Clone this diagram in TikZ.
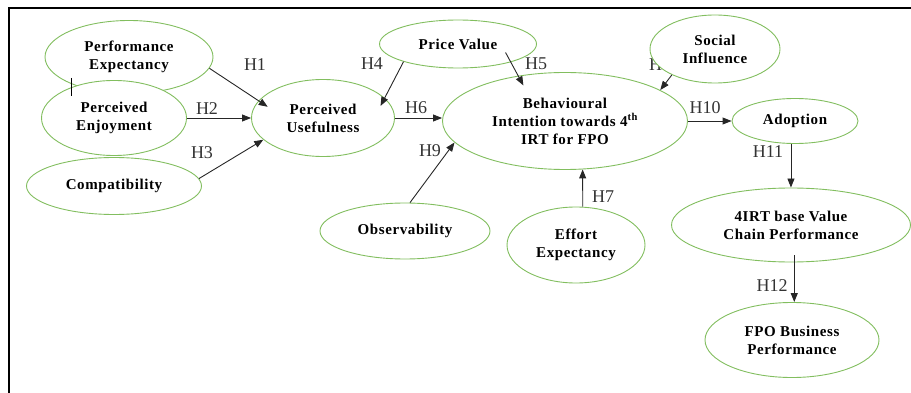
\documentclass[tikz,border=0pt]{standalone}
\usepackage{fontspec}
\setmainfont{Liberation Serif}
\usetikzlibrary{arrows.meta,positioning,shapes.geometric}
\definecolor{ovalgreen}{RGB}{130,190,95}

\begin{document}
\begin{tikzpicture}[x=1pt,y=-1pt,
      construct/.style={
        ellipse,
        draw=ovalgreen,
        fill=white,
        line width=0.9pt,
        inner sep=0pt,
        align=center,
        font=\fontsize{15}{18}\selectfont\bfseries\addfontfeature{LetterSpace=4}},
      hyp/.style = {draw=black!85, line width=0.9pt, -{Triangle[length=9pt,width=7pt]}},
      hlabel/.style = {inner sep=0pt, text=black!80, font=\fontsize{18}{18}\selectfont}
      ]
  \useasboundingbox (0,0) rectangle (911,393);
  \draw[line width=2pt] (911,8) -- (9,8) -- (9,393);

  \node[construct, minimum width=168pt, minimum height=73pt] (PE) at (129,57) {Performance\\Expectancy};
  \node[construct, minimum width=145pt, minimum height=75pt] (PEn) at (114,118) {Perceived\\Enjoyment};
  \draw[line width=1pt] (71,78) -- (71,96);
  \node[construct, minimum width=175pt, minimum height=57pt] (CO) at (114,186) {Compatibility};
  \node[construct, minimum width=143pt, minimum height=77pt] (PU) at (323,118) {Perceived\\Usefulness};
  \node[construct, minimum width=157pt, minimum height=48pt] (PV) at (458,44) {Price Value};
  \node[construct, minimum width=245pt, minimum height=97pt] (BI) at (565,121) {Behavioural\\Intention towards 4\textsuperscript{th}\\IRT for FPO};
  \node[hlabel] (h8) at (660,65) {H8};
  \node[construct, minimum width=130pt, minimum height=68pt] (SI) at (715,49) {Social\\Influence};
  \node[construct, minimum width=126pt, minimum height=45pt] (AD) at (795,121) {Adoption};
  \node[construct, minimum width=170pt, minimum height=56pt] (OB) at (405,231) {Observability};
  \node[construct, minimum width=138pt, minimum height=76pt] (EE) at (576,245) {Effort\\Expectancy};
  \node[construct, minimum width=239pt, minimum height=74pt] (VC) at (791,225) {4IRT base Value\\Chain Performance};
  \node[construct, minimum width=174pt, minimum height=75pt] (FB) at (792,340) {FPO Business\\Performance};

  % hypotheses
  \draw[hyp, shorten >=-11pt] (PE.-8) -- (PU.165);
  \draw[hyp] (PEn.east) -- (PU.west);
  \draw[hyp] (CO.5) -- (PU.200);
  \draw[hyp, shorten >=-9pt] (PV.198) -- (PU.18);
  \draw[hyp, shorten <=-11pt, shorten >=-11pt] (PV.-19) -- (BI.136);
  \draw[hyp] (PU.east) -- (PU.east -| BI.west);
  \draw[hyp] (EE.80) -- (BI.-70);
  \draw[hyp] (SI.211) -- (BI.18);
  \draw[hyp] (OB.80) -- (BI.191);
  \draw[hyp] (BI.east) -- (AD.west);
  \draw[hyp] (AD.-100) -- (AD.-100 |- VC.north);
  \draw[hyp, shorten <=-7pt] (VC.-85) -- (VC.-85 |- FB.north);

  \node[hlabel] (h1) at (255,65) {H1};
  \node[hlabel] (h2) at (207,109) {H2};
  \node[hlabel] (h3) at (202,153) {H3};
  \node[hlabel] (h4) at (372,64) {H4};
  \node[hlabel] (h5) at (536,64) {H5};
  \node[hlabel] (h6) at (416,108) {H6};
  \node[hlabel] (h7) at (603,197) {H7};
  \node[hlabel] (h9) at (430,151) {H9};
  \node[hlabel] (h10) at (705,108) {H10};
  \node[hlabel] (h11) at (768,152) {H11};
  \node[hlabel] (h12) at (772,286) {H12};
\end{tikzpicture}
\end{document}
